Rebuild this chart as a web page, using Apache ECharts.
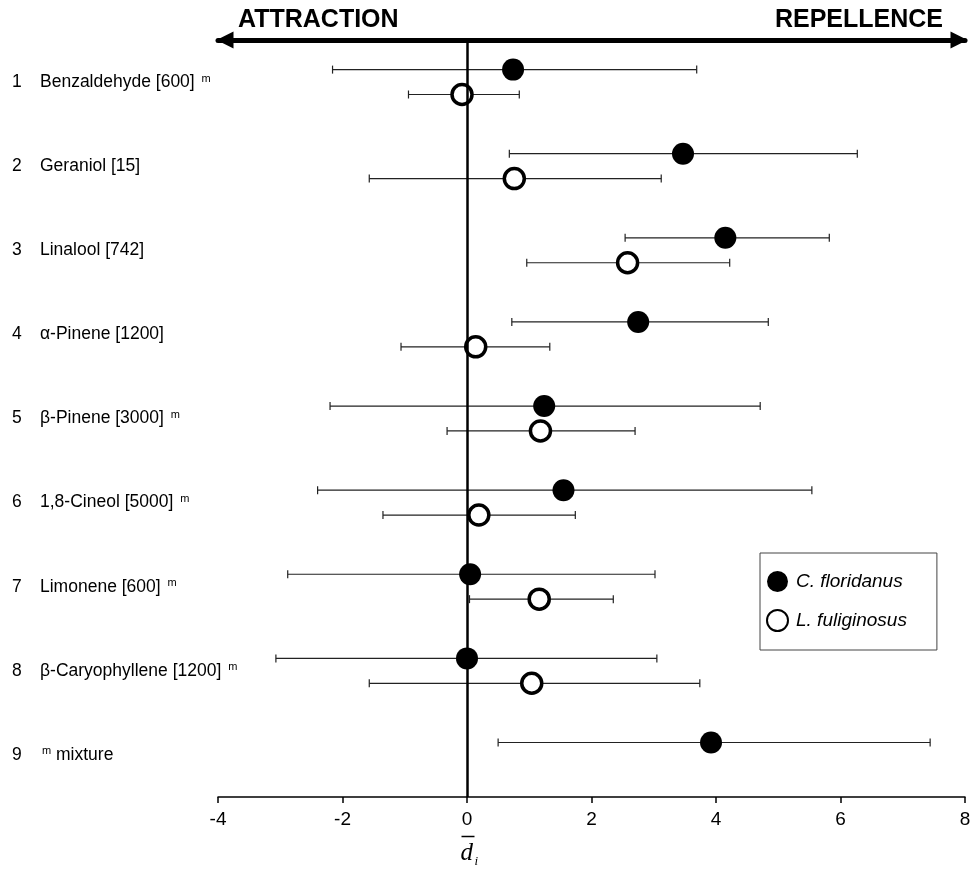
<!DOCTYPE html>
<html>
<head>
<meta charset="utf-8">
<script src="https://cdn.jsdelivr.net/npm/echarts@6/dist/echarts.min.js"></script>
<style>
  html, body { margin: 0; background: #fff; }
  #main { width: 974px; height: 878px; }
</style>
</head>
<body>
<div id="main"></div>
<script>
// compounds, top to bottom
var rowNums = ['1', '2', '3', '4', '5', '6', '7', '8', '9'];
var rowNames = ['Benzaldehyde [600]', 'Geraniol [15]', 'Linalool [742]', '\u03b1-Pinene [1200]',
    '\u03b2-Pinene [3000]', '1,8-Cineol [5000]', 'Limonene [600]', '\u03b2-Caryophyllene [1200]', 'mixture'];
var hasM = [true, false, false, false, true, true, true, true, false];

// C. floridanus: mean and whisker ends
var cfMean = [0.74, 3.47, 4.15, 2.75, 1.24, 1.55, 0.05, 0.00, 3.92];
var cfLow = [-2.16, 0.68, 2.54, 0.72, -2.20, -2.40, -2.88, -3.07, 0.50];
var cfHigh = [3.69, 6.27, 5.82, 4.84, 4.71, 5.54, 3.02, 3.05, 7.44];

// L. fuliginosus (no value for the mixture)
var lfMean = [-0.08, 0.76, 2.58, 0.14, 1.18, 0.19, 1.16, 1.04, null];
var lfLow = [-0.94, -1.57, 0.96, -1.06, -0.32, -1.35, 0.04, -1.57, null];
var lfHigh = [0.84, 3.12, 4.22, 1.33, 2.70, 1.74, 2.35, 3.74, null];

var xTicks = [-4, -2, 0, 2, 4, 6, 8];

var OFF = 0.148; // vertical shift of each species inside a row

function labelOf(i) {
    if (i === 8) return '{n|' + rowNums[i] + '}{m|m}{t| ' + rowNames[i] + '}';
    return '{n|' + rowNums[i] + '}{t|' + rowNames[i] + '}' + (hasM[i] ? '{t| }{m|m}' : '');
}

var cfPts = [], lfPts = [], bars = [];
for (var i = 0; i < rowNames.length; i++) {
    cfPts.push([cfMean[i], i + 1 - OFF]);
    bars.push([i + 1 - OFF, cfLow[i], cfHigh[i]]);
    if (lfMean[i] != null) {
        lfPts.push([lfMean[i], i + 1 + OFF]);
        bars.push([i + 1 + OFF, lfLow[i], lfHigh[i]]);
    }
}

function renderBar(params, api) {
    var y = api.value(0);
    var a = api.coord([api.value(1), y]);
    var b = api.coord([api.value(2), y]);
    var h = 4;
    var st = { stroke: '#222', lineWidth: 1.2 };
    return {
        type: 'group',
        children: [
            { type: 'line', shape: { x1: a[0], y1: a[1], x2: b[0], y2: b[1] }, style: st },
            { type: 'line', shape: { x1: a[0], y1: a[1] - h, x2: a[0], y2: a[1] + h }, style: st },
            { type: 'line', shape: { x1: b[0], y1: b[1] - h, x2: b[0], y2: b[1] + h }, style: st }
        ]
    };
}

var chart = echarts.init(document.getElementById('main'));
var font = "'Liberation Sans', Arial, sans-serif";

var option = {
    animation: false,
    backgroundColor: '#fff',
    textStyle: { fontFamily: font, color: '#000' },
    grid: { left: 218, right: 9, top: 40, bottom: 81 },
    xAxis: [
        {
            type: 'value', min: xTicks[0], max: xTicks[xTicks.length - 1], interval: 2,
            position: 'bottom',
            axisLine: { onZero: false, lineStyle: { color: '#000', width: 1.5 } },
            axisTick: { length: 6, lineStyle: { color: '#000', width: 1.5 } },
            axisLabel: {
                color: '#000', fontSize: 19, margin: 13,
                fontFamily: "'Liberation Sans Narrow', 'Liberation Sans', sans-serif"
            },
            splitLine: { show: false }
        },
        {
            type: 'value', min: xTicks[0], max: xTicks[xTicks.length - 1],
            position: 'top',
            axisLine: {
                onZero: false,
                symbol: ['triangle', 'triangle'],
                symbolSize: [17, 17],
                symbolOffset: [7, -6],
                lineStyle: { color: '#000', width: 5 }
            },
            axisTick: { show: false },
            axisLabel: { show: false },
            splitLine: { show: false }
        }
    ],
    yAxis: [
        {
            type: 'category', inverse: true, data: rowNames,
            axisLine: { show: false }, axisTick: { show: false }, splitLine: { show: false },
            axisLabel: {
                align: 'left', margin: 206,
                formatter: function (v, idx) { return labelOf(idx); },
                rich: {
                    n: { fontSize: 17.5, width: 28, fontFamily: font, color: '#000' },
                    t: { fontSize: 17.5, fontFamily: font, color: '#000' },
                    m: { fontSize: 11, fontFamily: font, color: '#000', verticalAlign: 'top', padding: [0, 0, 0, 2] }
                }
            }
        },
        {
            type: 'value', inverse: true, min: 0.5, max: 9.5, show: false
        }
    ],
    legend: {
        orient: 'vertical', left: 760, top: 553,
        padding: [18, 30, 18, 6], itemGap: 17,
        itemWidth: 21, itemHeight: 21,
        borderColor: '#444', borderWidth: 1,
        textStyle: { fontSize: 19, fontStyle: 'italic', fontFamily: font, color: '#000', padding: [0, 0, 0, 3] },
        data: ['C. floridanus', 'L. fuliginosus']
    },
    series: [
        {
            type: 'custom', name: 'bars', xAxisIndex: 0, yAxisIndex: 1, z: 1,
            renderItem: renderBar, data: bars,
            encode: { x: [1, 2], y: 0 },
            markLine: {
                silent: true, symbol: ['none', 'none'], label: { show: false },
                lineStyle: { color: '#000', width: 2.5, type: 'solid' },
                data: [{ xAxis: 0 }]
            }
        },
        {
            type: 'scatter', name: 'C. floridanus', xAxisIndex: 0, yAxisIndex: 1, z: 3,
            symbol: 'circle', symbolSize: 22,
            itemStyle: { color: '#000', opacity: 1 },
            data: cfPts
        },
        {
            type: 'scatter', name: 'L. fuliginosus', xAxisIndex: 0, yAxisIndex: 1, z: 3,
            symbol: 'circle', symbolSize: 20,
            itemStyle: { color: '#fff', borderColor: '#000', borderWidth: 3.5, opacity: 1 },
            data: lfPts
        }
    ],
    graphic: [
        {
            type: 'text', left: 238, top: 8,
            style: { text: 'ATTRACTION', font: "bold 25px 'Liberation Sans', Arial, sans-serif", fill: '#000' }
        },
        {
            type: 'text', right: 31, top: 8,
            style: { text: 'REPELLENCE', font: "bold 25px 'Liberation Sans', Arial, sans-serif", fill: '#000' }
        },
        {
            type: 'group', left: 459, top: 834,
            children: [
                { type: 'line', shape: { x1: 1, y1: 2, x2: 14, y2: 2 }, style: { stroke: '#000', lineWidth: 1.5 } },
                { type: 'text', x: 0, y: 6, style: { text: 'd', font: "italic 25px 'Liberation Serif', 'DejaVu Serif', serif", fill: '#000' } },
                { type: 'text', x: 14, y: 21, style: { text: 'i', font: "italic 13px 'Liberation Serif', 'DejaVu Serif', serif", fill: '#000' } }
            ]
        }
    ]
};

chart.setOption(option);
</script>
</body>
</html>
